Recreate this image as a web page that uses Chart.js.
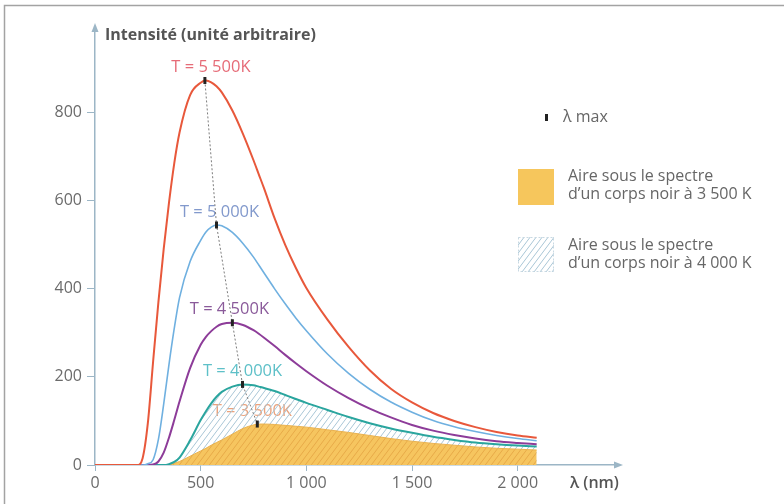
<!DOCTYPE html>
<html lang="fr">
<head>
<meta charset="utf-8">
<script src="https://cdn.jsdelivr.net/npm/chart.js@4"></script>
<style>
  html, body { margin: 0; padding: 0; background: #fff; }
  #wrap { position: relative; width: 784px; height: 504px; }
</style>
</head>
<body>
<div id="wrap"><canvas id="spectre"></canvas></div>
<script>
// longueurs d'onde (nm) communes aux cinq courbes
const lambdaNm = [0, 100, 200, 225, 250, 275, 300, 325, 350, 375, 400, 450, 500, 525, 550, 575, 600, 650, 700, 750, 775, 800, 850, 900, 950, 1000, 1100, 1200, 1300, 1400, 1500, 1600, 1700, 1800, 1900, 2000, 2090];

// intensité (unité arbitraire) pour chaque température
const i5500 = [0, 0, 0, 15, 95, 235, 370, 490, 595, 685, 755, 840, 868, 873, 869, 860, 846, 805, 752, 692, 660, 628, 560, 500, 448, 402, 330, 268, 215, 173, 142, 118, 100, 86, 75, 67, 62];
const i5000 = [0, 0, 0, 0, 3, 12, 58, 138, 228, 310, 380, 462, 510, 529, 540, 545, 543, 528, 503, 472, 454, 436, 400, 366, 334, 305, 252, 208, 172, 143, 120, 101, 87, 76, 67, 60, 55];
const i4500 = [0, 0, 0, 0, 0, 1, 8, 28, 62, 102, 144, 220, 273, 291, 304, 314, 320, 323, 318, 306, 298, 289, 270, 250, 231, 213, 180, 152, 128, 108, 91, 78, 68, 60, 54, 50, 47];
const i4000 = [0, 0, 0, 0, 0, 0, 0, 0, 2, 7, 17, 56, 102, 122, 140, 155, 166, 178, 183, 181, 178, 175, 168, 159, 150, 141, 125, 109, 95, 83, 73, 64, 57, 51, 47, 44, 42];
const i3500 = [0, 0, 0, 0, 0, 0, 0, 0, 0, 4, 8, 20, 32, 38, 45, 51, 57, 70, 83, 91, 93, 93, 92, 90, 88, 86, 80, 74, 67, 60, 54, 49, 45, 41, 38, 36, 34];

// position des maximums (loi de Wien)
const temperatures = ['5 500', '5 000', '4 500', '4 000', '3 500'];
const lambdaMax = [520, 575, 650, 698, 768];
const intensiteMax = [873, 545, 323, 183, 93];

const xTicks = [0, 500, 1000, 1500, 2000];
const yTicks = [0, 200, 400, 600, 800];

const couleursCourbes = ['#e8583b', '#6fb0e0', '#8d3c99', '#2aa59e', '#eab24f'];
const couleursEtiquettes = ['#e66c78', '#8299cc', '#8a5a9a', '#5ec0c8', '#eba27c'];
const decalEtiquettes = [6, 3, -3, 0, -5];
const couleurAxe = '#9cb6c6';
const police = '"Open Sans", "DejaVu Sans", sans-serif';

const canvas = document.getElementById('spectre');
const ctx = canvas.getContext('2d');

function hachures(fond, trait, w, h) {
  const c = document.createElement('canvas');
  c.width = w; c.height = h;
  const g = c.getContext('2d');
  if (fond) { g.fillStyle = fond; g.fillRect(0, 0, w, h); }
  g.strokeStyle = trait;
  g.lineWidth = 1;
  g.beginPath();
  g.moveTo(0, h); g.lineTo(w, 0);
  g.moveTo(-w, h); g.lineTo(0, 0);
  g.moveTo(w, h); g.lineTo(2 * w, 0);
  g.stroke();
  return ctx.createPattern(c, 'repeat');
}

const motifBleu = hachures(null, '#a9c6d6', 6, 8);
const motifOrange = hachures('#f6c55f', '#e7aa48', 6, 8);

const pts = vals => lambdaNm.map((x, i) => ({ x: x, y: vals[i] }));

function nombre(v) {
  return String(v).replace(/(\d)(\d{3})$/, '$1 $2');
}

const decor = {
  id: 'decor',
  beforeDraw(chart) {
    const c = chart.ctx;
    c.save();
    c.fillStyle = '#fff';
    c.fillRect(0, 0, chart.width, chart.height);
    c.strokeStyle = '#a3a3a3';
    c.lineWidth = 1.5;
    c.beginPath();
    c.moveTo(4.5, chart.height);
    c.lineTo(4.5, 5.5);
    c.lineTo(chart.width, 5.5);
    c.stroke();
    c.restore();
  },
  beforeDatasetsDraw(chart) {
    const c = chart.ctx;
    const xs = chart.scales.x, ys = chart.scales.y;
    c.save();
    c.font = '16.5px ' + police;
    c.textAlign = 'center';
    c.textBaseline = 'middle';
    temperatures.forEach((t, i) => {
      const px = xs.getPixelForValue(lambdaMax[i]) + decalEtiquettes[i];
      const py = ys.getPixelForValue(intensiteMax[i]) - 13;
      c.fillStyle = couleursEtiquettes[i];
      c.fillText('T = ' + t + 'K', px, py);
    });
    c.restore();
  },
  afterDraw(chart) {
    const c = chart.ctx;
    const a = chart.chartArea;
    c.save();
    // flèches des axes
    c.fillStyle = couleurAxe;
    c.beginPath();
    c.moveTo(a.right + 6, a.bottom);
    c.lineTo(a.right - 3, a.bottom - 3.5);
    c.lineTo(a.right - 3, a.bottom + 3.5);
    c.closePath();
    c.fill();
    c.beginPath();
    c.moveTo(a.left, a.top - 6);
    c.lineTo(a.left - 3.5, a.top + 3);
    c.lineTo(a.left + 3.5, a.top + 3);
    c.closePath();
    c.fill();

    // titres des axes
    c.fillStyle = '#555';
    c.textBaseline = 'middle';
    c.font = 'bold 16px ' + police;
    c.fillText('Intensité (unité arbitraire)', 105, 35);
    c.font = '600 16px ' + police;
    c.fillText('λ (nm)', 570, 483);

    // légende
    c.fillStyle = '#222';
    c.fillRect(545, 114, 3, 7);
    c.fillStyle = '#666';
    c.font = '16px ' + police;
    c.fillText('λ max', 563, 117);

    c.fillStyle = '#f6c65c';
    c.fillRect(518, 169, 36, 36);
    c.fillStyle = '#666';
    c.fillText('Aire sous le spectre', 568, 176);
    c.fillText('d’un corps noir à 3 500 K', 568, 194);

    c.fillStyle = motifBleu;
    c.fillRect(518, 237, 36, 35);
    c.strokeStyle = '#c9d9e2';
    c.lineWidth = 1;
    c.setLineDash([2, 2]);
    c.strokeRect(518.5, 237.5, 35, 34);
    c.setLineDash([]);
    c.fillStyle = '#666';
    c.fillText('Aire sous le spectre', 568, 245);
    c.fillText('d’un corps noir à 4 000 K', 568, 263);
    c.restore();
  }
};

const courbe = (vals, couleur, largeur, ordre) => ({
  data: pts(vals),
  borderColor: couleur,
  borderWidth: largeur,
  pointRadius: 0,
  fill: false,
  cubicInterpolationMode: 'monotone',
  order: ordre
});

new Chart(canvas, {
  type: 'line',
  data: {
    datasets: [
      {
        label: 'λ max',
        data: lambdaMax.map((x, i) => ({ x: x, y: intensiteMax[i] })),
        borderColor: '#7d7d7d',
        borderWidth: 1,
        borderDash: [2, 2],
        tension: 0,
        pointStyle: 'line',
        pointRotation: 90,
        pointRadius: 3.5,
        pointBorderWidth: 3,
        pointBorderColor: '#222',
        order: 0
      },
      courbe(i5500, couleursCourbes[0], 2, 1),
      courbe(i5000, couleursCourbes[1], 1.6, 2),
      courbe(i4500, couleursCourbes[2], 2, 3),
      courbe(i4000, couleursCourbes[3], 2, 4),
      Object.assign(courbe(i3500, couleursCourbes[4], 1, 8), { fill: 'origin', backgroundColor: motifOrange }),
      Object.assign(courbe(i4000, 'rgba(0,0,0,0)', 0, 9), { fill: 'origin', backgroundColor: motifBleu })
    ]
  },
  options: {
    animation: false,
    responsive: true,
    maintainAspectRatio: false,
    layout: { padding: { top: 29, right: 167, left: 0, bottom: 0 } },
    plugins: {
      legend: { display: false },
      tooltip: { enabled: false }
    },
    scales: {
      x: {
        type: 'linear',
        min: 0,
        max: 2470,
        afterBuildTicks: s => { s.ticks = xTicks.map(v => ({ value: v })); },
        afterFit: s => { s.height = 39; },
        grid: { drawOnChartArea: false, tickLength: 6, color: couleurAxe },
        border: { color: couleurAxe, width: 1.5 },
        ticks: { padding: 3, color: '#6b6b6b', maxRotation: 0, font: { family: police, size: 16 }, callback: v => nombre(v) }
      },
      y: {
        min: 0,
        max: 990,
        afterBuildTicks: s => { s.ticks = yTicks.map(v => ({ value: v })); },
        afterFit: s => { s.width = 95; },
        grid: { drawOnChartArea: false, tickLength: 8, color: couleurAxe },
        border: { color: couleurAxe, width: 1.5 },
        ticks: { padding: 5, color: '#6b6b6b', font: { family: police, size: 16 } }
      }
    }
  },
  plugins: [decor]
});
</script>
</body>
</html>
